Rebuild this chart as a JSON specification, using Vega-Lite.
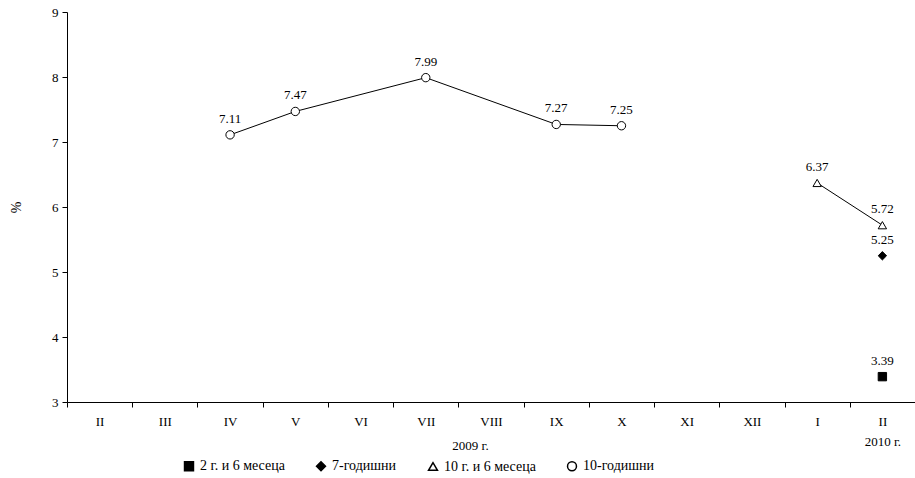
{
  "$schema": "https://vega.github.io/schema/vega-lite/v6.json",
  "width": 848,
  "height": 390,
  "autosize": "none",
  "padding": {"left": 67, "top": 12, "right": 0, "bottom": 76},
  "config": {
    "font": "Liberation Serif",
    "view": {"stroke": null},
    "axis": {"grid": false, "domainColor": "black", "tickColor": "black", "labelColor": "black", "labelFont": "Liberation Serif", "labelFontSize": 13, "titleFont": "Liberation Serif"}
  },
  "data": {
    "values": [
      {"m": "2009-IV", "s": "10-годишни", "v": 7.11},
      {"m": "2009-V", "s": "10-годишни", "v": 7.47},
      {"m": "2009-VII", "s": "10-годишни", "v": 7.99},
      {"m": "2009-IX", "s": "10-годишни", "v": 7.27},
      {"m": "2009-X", "s": "10-годишни", "v": 7.25},
      {"m": "2010-I", "s": "10 г. и 6 месеца", "v": 6.37},
      {"m": "2010-II", "s": "10 г. и 6 месеца", "v": 5.72},
      {"m": "2010-II", "s": "7-годишни", "v": 5.25},
      {"m": "2010-II", "s": "2 г. и 6 месеца", "v": 3.39}
    ]
  },
  "encoding": {
    "x": {
      "field": "m", "type": "ordinal", "title": "2009 г.",
      "scale": {"domain": ["2009-II","2009-III","2009-IV","2009-V","2009-VI","2009-VII","2009-VIII","2009-IX","2009-X","2009-XI","2009-XII","2010-I","2010-II"], "paddingInner": 0, "paddingOuter": 0},
      "axis": {"labelAngle": 0, "tickBand": "extent", "labelPadding": 8, "labelLineHeight": 20, "labelExpr": "datum.value == '2010-II' ? ['II', '2010 г.'] : split(datum.value, '-')[1]",
        "titleX": 403, "titleY": 37, "titleFontSize": 13, "titleFontWeight": "normal", "titleColor": "black"}
    },
    "y": {
      "field": "v", "type": "quantitative", "title": "%",
      "scale": {"domain": [3, 9]},
      "axis": {"tickCount": 6, "titleFontSize": 14, "titleFontWeight": "normal", "titleColor": "black", "titlePadding": 28, "labelFontSize": 13, "labelPadding": 4}
    }
  },
  "layer": [
    {
      "mark": {"type": "line", "color": "black", "strokeWidth": 1},
      "encoding": {"detail": {"field": "s"}}
    },
    {
      "mark": {"type": "point", "filled": true, "stroke": "black", "strokeWidth": 1, "size": 70, "opacity": 1},
      "encoding": {
        "shape": {"field": "s", "type": "nominal", "title": null,
          "scale": {"domain": ["2 г. и 6 месеца", "7-годишни", "10 г. и 6 месеца", "10-годишни"], "range": ["square", "diamond", "triangle-up", "circle"]}},
        "fill": {"field": "s", "type": "nominal", "title": null,
          "scale": {"domain": ["2 г. и 6 месеца", "7-годишни", "10 г. и 6 месеца", "10-годишни"], "range": ["black", "black", "white", "white"]},
          "legend": {"orient": "none", "legendX": 115, "legendY": 447, "direction": "horizontal", "labelFontSize": 14, "labelFont": "Liberation Serif", "labelColor": "black", "symbolStrokeColor": "black", "symbolSize": 80, "columnPadding": 28}}
      }
    },
    {
      "mark": {"type": "text", "dy": -16, "fontSize": 13, "color": "black"},
      "encoding": {"text": {"field": "v", "type": "quantitative", "format": ".2f"}}
    }
  ]
}
